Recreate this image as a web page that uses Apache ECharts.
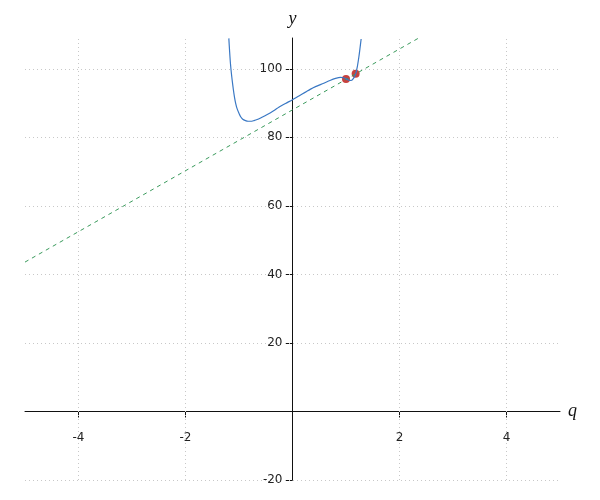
<!DOCTYPE html>
<html><head><meta charset="utf-8">
<script src="https://cdn.jsdelivr.net/npm/echarts@6/dist/echarts.min.js"></script>
<style>html,body{margin:0;padding:0;background:#fff}#c{width:600px;height:500px}</style>
</head><body><div id="c"></div>
<script>
// Curve samples
const curveX = [-1.19, -1.175, -1.159, -1.143, -1.127, -1.105, -1.084, -1.06, -1.034, -1.0, -0.972, -0.93, -0.879, -0.83, -0.785, -0.72, -0.66, -0.58, -0.505, -0.411, -0.33, -0.256, -0.13, 0.0, 0.12, 0.243, 0.33, 0.43, 0.585, 0.7, 0.804, 0.897, 0.96, 1.009, 1.05, 1.097, 1.14, 1.18, 1.209, 1.239, 1.26, 1.283];
const curveY = [108.9, 105.0, 101.4, 98.8, 96.6, 93.9, 91.7, 89.8, 88.3, 87.0, 86.1, 85.3, 84.9, 84.7, 84.7, 84.9, 85.2, 85.8, 86.4, 87.2, 88.0, 88.8, 89.9, 91.0, 92.1, 93.2, 94.0, 94.8, 95.8, 96.6, 97.2, 97.5, 97.4, 97.0, 96.7, 96.6, 97.2, 98.5, 100.4, 103.3, 105.8, 108.7];
const pointX = [1.0, 1.18];
const pointY = [97.0, 98.6];
const lineX = [-5, 2.36];
const lineY = [43.6, 109];
const xTickValues = [-4, -2, 2, 4];
const yTickValues = [-20, 20, 40, 60, 80, 100];
const xMin = -5, xMax = 5, yMin = -20, yMax = 109;

const zip = (a, b) => a.map((v, i) => [v, b[i]]);
const G = {left: 25, right: 40, top: 38, bottom: 20};
const plotW = 600 - G.left - G.right, plotH = 500 - G.top - G.bottom;
// place each axis line at the other axis's zero
const xOffset = -plotH * (0 - yMin) / (yMax - yMin);
const yOffset = -plotW * (0 - xMin) / (xMax - xMin);

const chart = echarts.init(document.getElementById('c'), null, {renderer: 'canvas'});
const labelStyle = {fontFamily: 'DejaVu Sans', fontSize: 12, color: '#222'};
const gridStyle = {type: [1, 3], color: '#c8c8c8', width: 1};
chart.setOption({
  animation: false,
  grid: Object.assign({containLabel: false, outerBoundsMode: 'none'}, G),
  xAxis: {
    type: 'value', min: xMin, max: xMax, position: 'bottom', offset: xOffset,
    name: 'q', nameLocation: 'end', nameGap: 8,
    nameTextStyle: {fontFamily: 'Liberation Serif', fontStyle: 'italic', fontSize: 18, color: '#111', verticalAlign: 'middle'},
    axisLine: {onZero: false, lineStyle: {color: '#111', width: 1}},
    axisTick: {show: true, length: 6, inside: false, customValues: xTickValues, lineStyle: {color: '#111'}},
    axisLabel: {customValues: xTickValues, margin: 20, ...labelStyle},
    splitLine: {show: false}
  },
  yAxis: {
    type: 'value', min: yMin, max: yMax, position: 'left', offset: yOffset,
    name: 'y', nameLocation: 'end', nameGap: 10,
    nameTextStyle: {fontFamily: 'Liberation Serif', fontStyle: 'italic', fontSize: 18, color: '#111', align: 'center'},
    axisLine: {onZero: false, lineStyle: {color: '#111', width: 1}},
    axisTick: {show: true, length: 7, inside: false, customValues: yTickValues, lineStyle: {color: '#111'}},
    axisLabel: {customValues: yTickValues, margin: 10, ...labelStyle},
    splitLine: {show: false}
  },
  series: [
    {
      type: 'line', data: [], silent: true,
      markLine: {
        silent: true, symbol: 'none', animation: false,
        label: {show: false},
        lineStyle: gridStyle,
        data: xTickValues.map(v => ({xAxis: v})).concat(yTickValues.map(v => ({yAxis: v})))
      }
    },
    {
      type: 'line', data: zip(lineX, lineY), showSymbol: false, silent: true,
      lineStyle: {color: '#3a9a5c', width: 1, type: [4, 4]}
    },
    {
      type: 'line', data: zip(curveX, curveY), showSymbol: false, smooth: 0.3, silent: true,
      lineStyle: {color: '#3a78c4', width: 1.2}
    },
    {
      type: 'scatter', data: zip(pointX, pointY), symbolSize: 8, silent: true,
      itemStyle: {color: '#c8413d', opacity: 1}
    }
  ]
});
</script>
</body></html>
